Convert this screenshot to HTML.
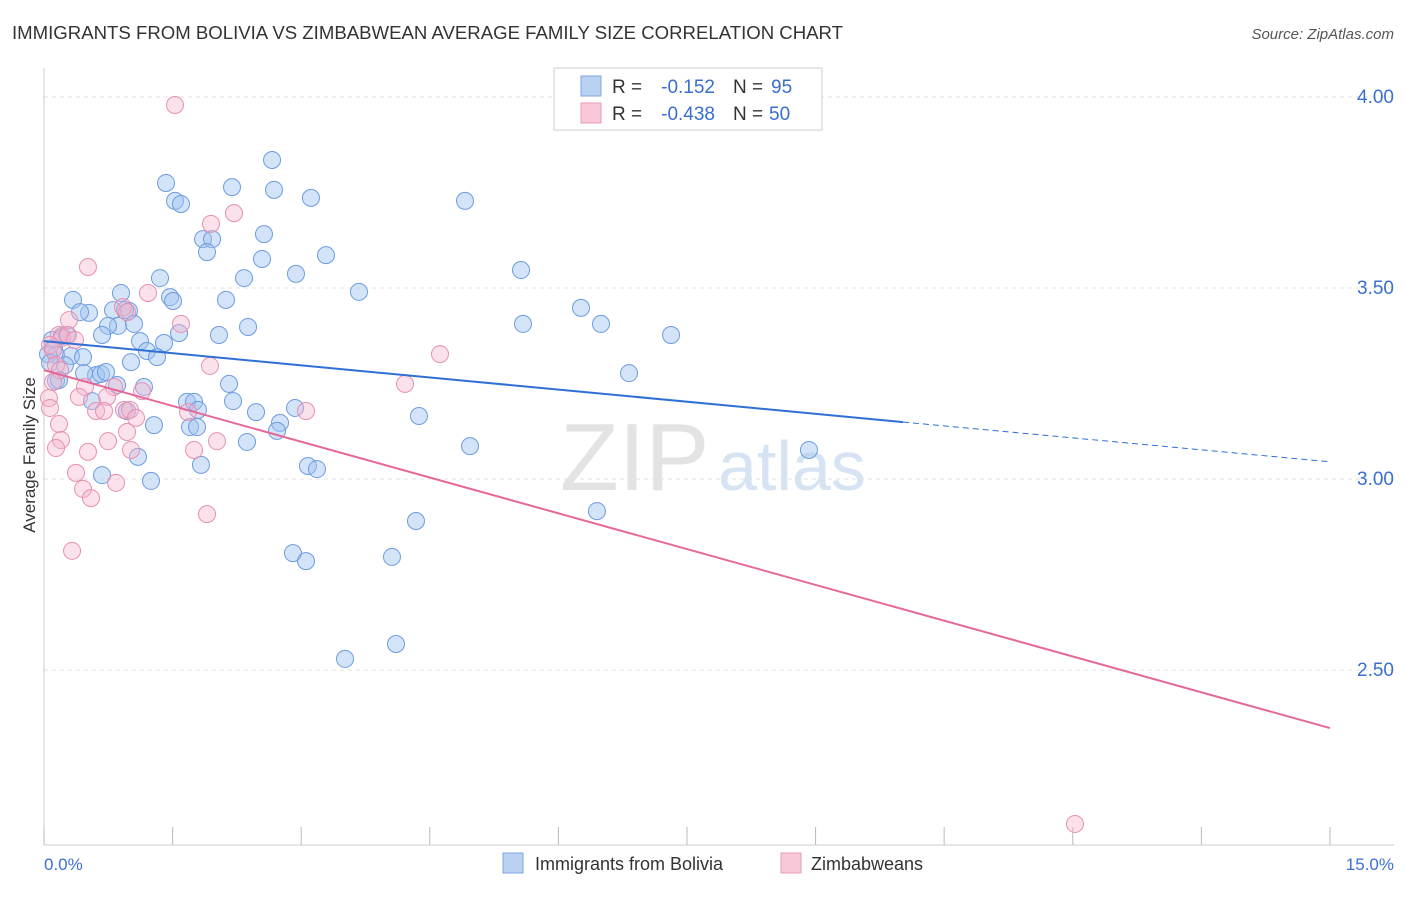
<!DOCTYPE html>
<html><head><meta charset="utf-8"><style>
body{margin:0;background:#fff;font-family:"Liberation Sans",sans-serif}
svg text{font-family:"Liberation Sans",sans-serif}
</style></head><body>
<svg id="chart" width="1406" height="892">
<text x="12" y="39" font-size="18.6" fill="#333">IMMIGRANTS FROM BOLIVIA VS ZIMBABWEAN AVERAGE FAMILY SIZE CORRELATION CHART</text>
<text x="1394" y="39" font-size="15" fill="#555" font-style="italic" text-anchor="end">Source: ZipAtlas.com</text>
<text x="560" y="490" font-size="96" fill="#e3e3e3" font-family="Liberation Serif">ZIP</text>
<text x="718" y="490" font-size="70" fill="#d5e3f3">atlas</text>
<g id="grid"></g><g id="axes"></g><g id="pts"></g><g id="lines"></g>
<text x="35" y="455" font-size="17" fill="#333" transform="rotate(-90 35 455)" text-anchor="middle">Average Family Size</text>
<text x="44" y="870" font-size="17" fill="#3a6fd0">0.0%</text>
<text x="1394" y="870" font-size="17" fill="#3a6fd0" text-anchor="end">15.0%</text>
<g>
<rect x="554" y="68" width="268" height="62" fill="#fff" stroke="#ccc"/>
<rect x="581" y="76" width="20" height="20" fill="#b9d2f2" stroke="#7ea6e0"/>
<rect x="581" y="103" width="20" height="20" fill="#f8c8d8" stroke="#eb9ab6"/>
<text x="612" y="93" font-size="19" fill="#333">R =</text>
<text x="715" y="93" font-size="19" fill="#3a6fd0" text-anchor="end">-0.152</text>
<text x="733" y="93" font-size="19" fill="#333">N =</text>
<text x="771" y="93" font-size="19" fill="#3a6fd0">95</text>
<text x="612" y="120" font-size="19" fill="#333">R =</text>
<text x="715" y="120" font-size="19" fill="#3a6fd0" text-anchor="end">-0.438</text>
<text x="733" y="120" font-size="19" fill="#333">N =</text>
<text x="769" y="120" font-size="19" fill="#3a6fd0">50</text>
</g>
<g>
<rect x="503" y="853" width="20" height="20" fill="#b9d2f2" stroke="#7ea6e0"/>
<text x="535" y="870" font-size="18" fill="#333">Immigrants from Bolivia</text>
<rect x="781" y="853" width="20" height="20" fill="#f8c8d8" stroke="#eb9ab6"/>
<text x="811" y="870" font-size="18" fill="#333">Zimbabweans</text>
</g>
</svg>
<script>
const yTicks=[4.0,3.5,3.0,2.5];
const yTickLabels=["4.00","3.50","3.00","2.50"];
const xTicks=[0,1.5,3,4.5,6,7.5,9,10.5,12,13.5,15];
const boliviaPx=[[166,183],[175,201],[181,204],[272,160],[232,187],[274,190],[311,198],[465,201],[203,239],[212,239],[207,252],[264,234],[262,259],[326,255],[296,274],[521,270],[160,278],[244,278],[226,300],[170,297],[173,301],[359,292],[73,300],[121,293],[113,310],[89,313],[80,312],[129,311],[125,310],[118,326],[108,326],[134,324],[102,335],[179,333],[219,335],[248,327],[523,324],[581,308],[601,324],[671,335],[52,340],[62,336],[67,335],[54,348],[56,355],[71,356],[83,357],[140,341],[164,343],[147,351],[157,357],[131,362],[48,354],[50,363],[65,365],[96,375],[101,374],[106,372],[84,373],[117,385],[144,387],[229,384],[233,401],[629,373],[56,381],[59,380],[92,401],[127,411],[187,402],[194,402],[198,410],[256,412],[295,408],[419,416],[154,425],[190,427],[197,427],[280,423],[277,431],[247,442],[470,446],[809,450],[138,457],[201,465],[308,466],[317,469],[102,475],[151,481],[416,521],[597,511],[293,553],[306,561],[392,557],[345,659],[396,644]];
const zimPx=[[175,105],[234,213],[211,224],[88,267],[148,293],[123,307],[127,312],[181,324],[69,320],[59,335],[62,338],[68,335],[75,340],[50,345],[53,350],[56,365],[60,370],[210,366],[440,354],[405,384],[114,387],[142,391],[85,387],[53,382],[49,398],[79,397],[107,397],[50,408],[96,411],[104,411],[124,410],[130,410],[136,418],[188,412],[306,411],[59,424],[127,432],[61,440],[108,441],[217,441],[56,448],[88,452],[131,450],[194,450],[76,473],[116,483],[83,489],[91,498],[207,514],[72,551],[1075,824]];
const bolivia=boliviaPx.map(p=>[+((p[0]-44)/85.73).toFixed(3),+(4-(p[1]-97)/382).toFixed(3)]);
const zimbabwe=zimPx.map(p=>[+((p[0]-44)/85.73).toFixed(3),+(4-(p[1]-97)/382).toFixed(3)]);
const blueTrend=[[0,3.361],[10.02,3.149],[15,3.045]];
const pinkTrend=[[0,3.285],[15,2.348]];
const X=v=>44+v*85.73, Y=v=>97+(4-v)*382;
const NS="http://www.w3.org/2000/svg";
function mk(t,a,parent){const e=document.createElementNS(NS,t);for(const k in a)e.setAttribute(k,a[k]);document.getElementById(parent).appendChild(e);return e;}
yTicks.forEach((t,i)=>{
 const l=mk('line',{x1:44,x2:1394,y1:Y(t),y2:Y(t),stroke:'#e2e2e2','stroke-dasharray':'4,4'},'grid');
 
 
 const tx=mk('text',{x:1394,y:Y(t)+6,'font-size':19,fill:'#3a6fd0','text-anchor':'end'},'grid');
 tx.textContent=yTickLabels[i];
 
 
});
const ax=mk('line',{x1:44,x2:44,y1:68,y2:845,stroke:'#ccc'},'axes');


const bx=mk('line',{x1:44,x2:1394,y1:845,y2:845,stroke:'#ccc'},'axes');


xTicks.forEach(t=>{
 const l=mk('line',{x1:X(t),x2:X(t),y1:827,y2:845,stroke:'#bbb'},'axes');
 
 
});
bolivia.forEach(p=>{
 const c=mk('circle',{cx:X(p[0]),cy:Y(p[1]),r:8.5,fill:'rgba(160,195,240,0.45)',stroke:'#6d9be0','stroke-width':1},'pts');
 
 
});
zimbabwe.forEach(p=>{
 const c=mk('circle',{cx:X(p[0]),cy:Y(p[1]),r:8.5,fill:'rgba(245,180,205,0.4)',stroke:'#e890b0','stroke-width':1},'pts');
 
 
});
const b1=mk('line',{x1:X(blueTrend[0][0]),y1:Y(blueTrend[0][1]),x2:X(blueTrend[1][0]),y2:Y(blueTrend[1][1]),stroke:'#2f6fd6','stroke-width':2},'lines');


const b2=mk('line',{x1:X(blueTrend[1][0]),y1:Y(blueTrend[1][1]),x2:X(blueTrend[2][0]),y2:Y(blueTrend[2][1]),stroke:'#2f6fd6','stroke-width':1,'stroke-dasharray':'6,4'},'lines');


const p1=mk('line',{x1:X(pinkTrend[0][0]),y1:Y(pinkTrend[0][1]),x2:X(pinkTrend[1][0]),y2:Y(pinkTrend[1][1]),stroke:'#e5689a','stroke-width':2},'lines');


</script>
</body></html>
